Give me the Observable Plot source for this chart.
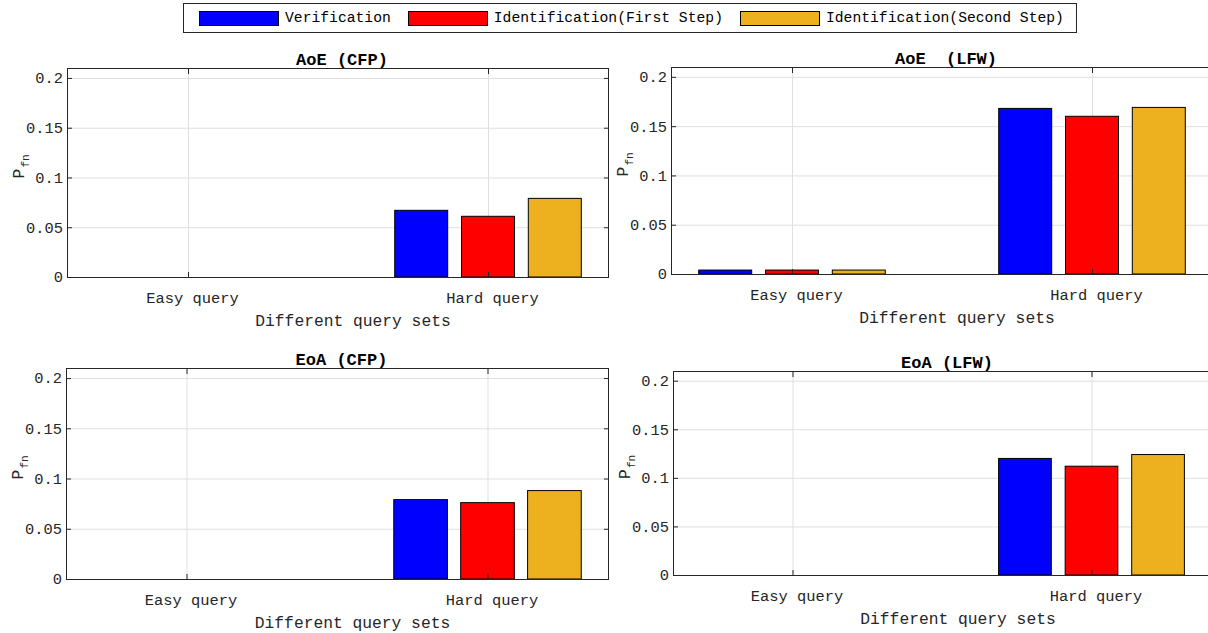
<!DOCTYPE html>
<html>
<head>
<meta charset="utf-8">
<script src="https://cdn.jsdelivr.net/npm/d3@7"></script>
<script src="https://cdn.jsdelivr.net/npm/@observablehq/plot@0.6"></script>
<style>
  html, body { margin: 0; padding: 0; background: #fff; overflow: hidden; }
  #root { position: relative; width: 1208px; height: 633px; overflow: hidden; background: #fff; }
  .panel { position: absolute; overflow: visible; }
  #legend {
    position: absolute; left: 183px; top: 3px; width: 894px; height: 30px;
    box-sizing: border-box; border: 1px solid #262626; background: #fff;
    font-family: "Liberation Mono", "Courier New", monospace; font-size: 14.7px; color: #000;
    display: flex; align-items: center; padding-left: 15px; white-space: nowrap;
  }
  #legend .item { display: flex; align-items: center; margin-right: 17px; }
  #legend .sw { width: 80px; height: 15px; box-sizing: border-box; border: 1px solid #000; margin-right: 6px; }
</style>
</head>
<body>
<div id="root"><div id="legend"></div></div>
<script>
// ---- data ----
const queries = ["Easy query", "Hard query"];
const series = ["Verification", "Identification(First Step)", "Identification(Second Step)"];
const seriesColors = ["#0000ff", "#ff0000", "#edb120"];
const panelTitles = ["AoE (CFP)", "AoE  (LFW)", "EoA (CFP)", "EoA (LFW)"];
const aoeCfpEasy = [0, 0, 0];
const aoeCfpHard = [0.067, 0.061, 0.079];
const aoeLfwEasy = [0.004, 0.004, 0.004];
const aoeLfwHard = [0.168, 0.160, 0.169];
const eoaCfpEasy = [0, 0, 0];
const eoaCfpHard = [0.079, 0.076, 0.088];
const eoaLfwEasy = [0, 0, 0];
const eoaLfwHard = [0.120, 0.112, 0.124];
const yTicks = [0, 0.05, 0.1, 0.15, 0.2];
const yDomain = [0, 0.21];
const xLabel = "Different query sets";
const yLabelMain = "P";
const yLabelSub = "fn";

// ---- legend ----
const legend = document.getElementById("legend");
series.forEach((s, i) => {
  const item = document.createElement("div");
  item.className = "item";
  const sw = document.createElement("div");
  sw.className = "sw";
  sw.style.background = seriesColors[i];
  const t = document.createElement("span");
  t.textContent = s;
  item.appendChild(sw);
  item.appendChild(t);
  legend.appendChild(item);
});

// ---- panels ----
const FONT = "Liberation Mono, Courier New, monospace";
function makePanel(title, easy, hard, g) {
  const rows = [];
  series.forEach((s, i) => {
    rows.push({query: queries[0], series: s, i, value: easy[i]});
    rows.push({query: queries[1], series: s, i, value: hard[i]});
  });
  const mt = 40, mb = 60;
  const width = g.width;
  const ml = g.fl - g.svgLeft;
  const mr = g.svgLeft + width - g.fr;
  const height = mt + (g.fb - g.ft) + mb;
  const step = (g.fr - g.fl) / 1.8;
  const groupW = 0.8, barSpacing = 0.6667 / 3, barW = 0.8 * barSpacing;
  const inset = (groupW - barW) / 2 * step;
  const grid = "#dfdfdf";
  const marks = [
    Plot.ruleY(yTicks, {stroke: grid}),
    Plot.ruleX(queries, {stroke: grid}),
    ...series.map((s, i) => Plot.barY(rows.filter(d => d.i === i), {
      x: "query", y: "value", fill: seriesColors[i], stroke: "#000", strokeWidth: 1,
      insetLeft: inset, insetRight: inset, dx: (i - 1) * barSpacing * step
    })),
    Plot.frame({stroke: "#262626"}),
    Plot.axisY({ticks: yTicks, anchor: "left", tickSize: -5, tickPadding: 9.5,
      tickFormat: d => String(d), fontSize: 15.4, label: null}),
    Plot.axisY({ticks: yTicks, anchor: "right", tickSize: -5, tickFormat: () => "", label: null}),
    Plot.axisX({anchor: "bottom", tickSize: -5, tickFormat: () => "", label: null}),
    Plot.axisX({anchor: "top", tickSize: -5, tickFormat: () => "", label: null}),
    Plot.text(queries, {x: d => d, text: d => d, frameAnchor: "bottom", lineAnchor: "bottom",
      dy: 25.7, dx: 4, fontSize: 15.4, fill: "#262626"}),
    Plot.text([xLabel], {text: d => d, frameAnchor: "bottom", lineAnchor: "bottom",
      dy: 48.5, dx: g.xlDx, fontSize: 16.3, fill: "#262626"}),
    Plot.text([title], {text: d => d, frameAnchor: "top", lineAnchor: "bottom",
      dy: -4, dx: 4, fontSize: 17, fontWeight: "bold", fill: "#000"}),
    Plot.text([yLabelMain], {text: d => d, frameAnchor: "left", rotate: -90,
      dx: -49, dy: 5.5, fontSize: 16.3, fill: "#262626"}),
    Plot.text([yLabelSub], {text: d => d, frameAnchor: "left", rotate: -90,
      dx: -42, dy: -5.5, fontSize: 11, fill: "#262626"})
  ];
  const svg = Plot.plot({
    width, height,
    marginLeft: ml, marginRight: mr, marginTop: mt, marginBottom: mb,
    x: {type: "band", domain: queries, paddingInner: 0.2, paddingOuter: 0, align: 0.5},
    y: {domain: yDomain},
    style: {fontFamily: FONT, color: "#262626", background: "transparent", overflow: "visible"},
    marks
  });
  svg.classList.add("panel");
  svg.style.left = g.svgLeft + "px";
  svg.style.top = (g.ft - mt) + "px";
  document.getElementById("root").appendChild(svg);
}

makePanel(panelTitles[0], aoeCfpEasy, aoeCfpHard, {svgLeft: 0, width: 620, fl: 67, fr: 608, ft: 68, fb: 277, xlDx: 15});
makePanel(panelTitles[1], aoeLfwEasy, aoeLfwHard, {svgLeft: 610, width: 620, fl: 671, fr: 1212, ft: 67, fb: 274, xlDx: 15});
makePanel(panelTitles[2], eoaCfpEasy, eoaCfpHard, {svgLeft: 0, width: 620, fl: 66, fr: 608, ft: 368, fb: 579, xlDx: 15});
makePanel(panelTitles[3], eoaLfwEasy, eoaLfwHard, {svgLeft: 610, width: 620, fl: 673, fr: 1212, ft: 371, fb: 575, xlDx: 15});
</script>
</body>
</html>
